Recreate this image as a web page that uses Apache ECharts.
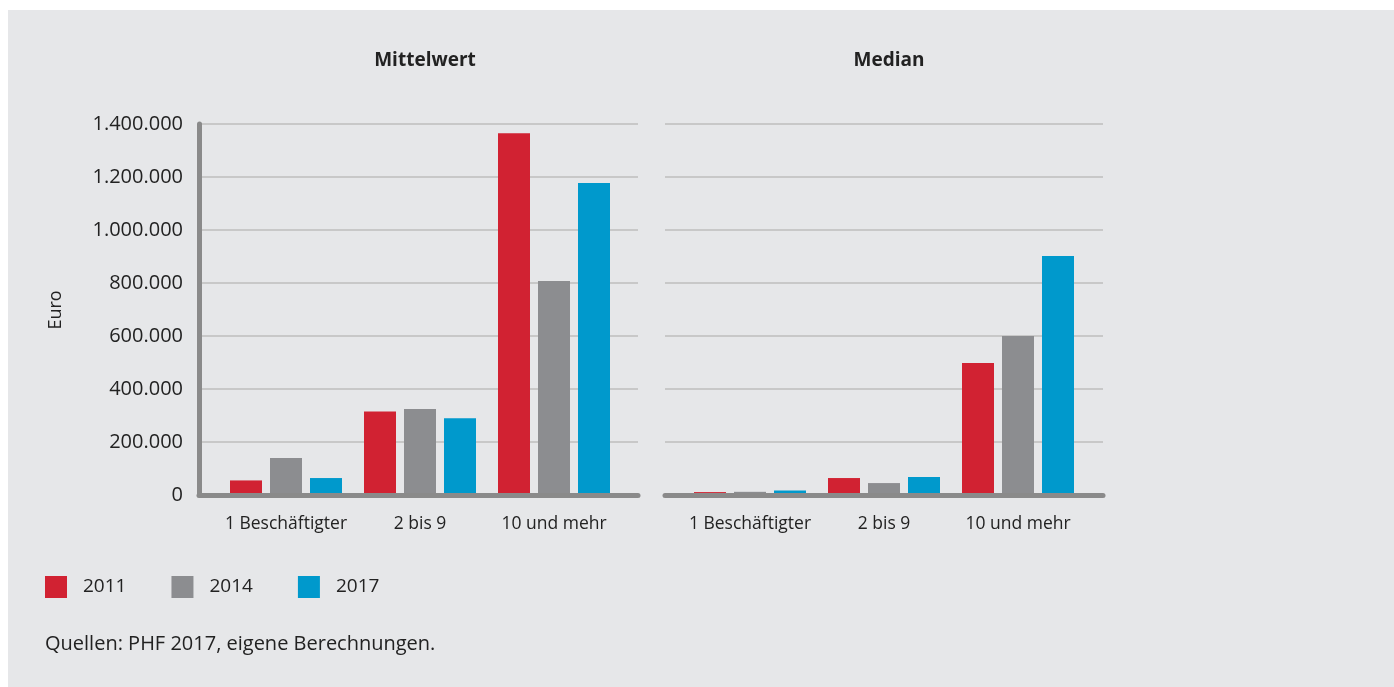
<!DOCTYPE html>
<html>
<head>
<meta charset="utf-8">
<script src="https://cdn.jsdelivr.net/npm/echarts@6/dist/echarts.min.js"></script>
<style>
  html, body { margin: 0; padding: 0; background: #fff; }
  #chart { width: 1394px; height: 687px; }
</style>
</head>
<body>
<div id="chart"></div>
<script>
  // Kategorien und Werte (Euro)
  const categories = ['1 Beschäftigter', '2 bis 9', '10 und mehr']
  const years = ['2011', '2014', '2017']
  const colors = ['#d12232', '#8c8d90', '#0099cc']

  // Mittelwert
  const mean2011 = [55000, 315000, 1365000]
  const mean2014 = [140000, 325000, 808000]
  const mean2017 = [64000, 290000, 1177000]

  // Median
  const median2011 = [11000, 64000, 498000]
  const median2014 = [12000, 45000, 600000]
  const median2017 = [17000, 68000, 902000]

  const panelTitles = ['Mittelwert', 'Median']

  const font = 'Open Sans'
  const axisGrey = '#8a8a8a'
  const yMax = 1400000
  const yStep = 200000

  const fmt = v => String(v).replace(/\B(?=(\d{3})+(?!\d))/g, '.')

  const chart = echarts.init(document.getElementById('chart'))

  // Balken liegen im schmaleren Grid (1, 3), Achsen und Gitter im breiteren (0, 2)
  const makeSeries = (name, data, idx, color) => ({
    name: name,
    type: 'bar',
    xAxisIndex: idx,
    yAxisIndex: idx,
    data: data,
    barWidth: 32,
    barGap: '25%',
    itemStyle: { color: color },
    emphasis: { disabled: true }
  })

  const frameX = idx => ({
    type: 'value', gridIndex: idx, min: 0, max: 1, z: 5,
    axisLine: { show: true, lineStyle: { color: axisGrey, width: 5 } },
    axisTick: { show: false }, axisLabel: { show: false }, splitLine: { show: false }
  })

  const barX = idx => ({
    type: 'category', gridIndex: idx, data: categories,
    axisLine: { show: false }, axisTick: { show: false },
    axisLabel: { interval: 0, color: '#222', fontSize: 17.5, fontFamily: font, margin: 20 }
  })

  const barY = idx => ({
    type: 'value', gridIndex: idx, min: 0, max: yMax, interval: yStep,
    axisLine: { show: false }, axisTick: { show: false },
    axisLabel: { show: false }, splitLine: { show: false }
  })

  const option = {
    backgroundColor: '#fff',
    animation: false,
    textStyle: { fontFamily: font },
    graphic: [
      { type: 'rect', left: 8, top: 10, shape: { width: 1386, height: 677 }, style: { fill: '#e6e7e9' }, z: -10 },
      { type: 'text', left: 45, top: 634, style: { text: 'Quellen: PHF 2017, eigene Berechnungen.', fill: '#222', fontSize: 20, fontFamily: font } },
      { type: 'text', x: 56, y: 310, rotation: Math.PI / 2, style: { text: 'Euro', fill: '#222', fontSize: 18, fontFamily: font, align: 'center', verticalAlign: 'middle' } }
    ],
    title: [
      { text: panelTitles[0], left: 420, top: 46, textAlign: 'center', textStyle: { fontSize: 19, fontWeight: 'bold', color: '#222', fontFamily: font } },
      { text: panelTitles[1], left: 884, top: 46, textAlign: 'center', textStyle: { fontSize: 19, fontWeight: 'bold', color: '#222', fontFamily: font } }
    ],
    legend: {
      left: 45,
      top: 576,
      padding: 0,
      itemWidth: 22,
      itemHeight: 22,
      itemGap: 45,
      icon: 'rect',
      data: years,
      textStyle: { fontSize: 19, color: '#222', fontFamily: font, padding: [0, 0, 0, 11], width: 50 }
    },
    grid: [
      { left: 199, top: 124, width: 439, height: 371 },
      { left: 219, top: 124, width: 402, height: 371 },
      { left: 665, top: 124, width: 438, height: 371 },
      { left: 683, top: 124, width: 402, height: 371 }
    ],
    xAxis: [frameX(0), barX(1), frameX(2), barX(3)],
    yAxis: [
      {
        type: 'value', gridIndex: 0, min: 0, max: yMax, interval: yStep,
        axisLine: { show: true, lineStyle: { color: axisGrey, width: 5 } },
        axisTick: { show: false },
        splitLine: { lineStyle: { color: '#c8c8c8', width: 2 } },
        axisLabel: { color: '#222', fontSize: 20, fontFamily: font, margin: 16, formatter: fmt }
      },
      barY(1),
      {
        type: 'value', gridIndex: 2, min: 0, max: yMax, interval: yStep,
        axisLine: { show: false },
        axisTick: { show: false },
        splitLine: { lineStyle: { color: '#c8c8c8', width: 2 } },
        axisLabel: { show: false }
      },
      barY(3)
    ],
    series: [
      makeSeries(years[0], mean2011, 1, colors[0]),
      makeSeries(years[1], mean2014, 1, colors[1]),
      makeSeries(years[2], mean2017, 1, colors[2]),
      makeSeries(years[0], median2011, 3, colors[0]),
      makeSeries(years[1], median2014, 3, colors[1]),
      makeSeries(years[2], median2017, 3, colors[2])
    ]
  }

  chart.setOption(option)
</script>
</body>
</html>
